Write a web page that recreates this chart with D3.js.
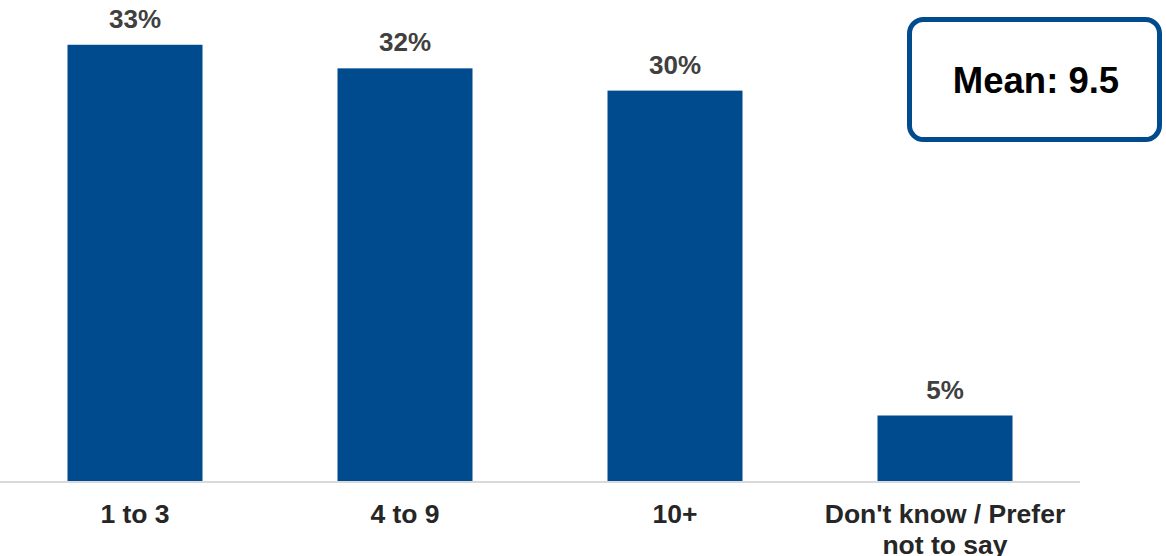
<!DOCTYPE html>
<html>
<head>
<meta charset="utf-8">
<script src="https://cdn.jsdelivr.net/npm/d3@7"></script>
<style>
  body { margin: 0; background: #fff; }
  svg { display: block; font-family: Arial, "Liberation Sans", sans-serif; }
</style>
</head>
<body>
<div id="chart"></div>
<script>
// data
var categories = ["1 to 3", "4 to 9", "10+", "Don't know / Prefer|not to say"];
var values = [33.3, 31.5, 29.8, 5.0];
var meanLabel = "Mean: 9.5";

var width = 1166, height = 556;
var barColor = "rgb(0,75,141)";

var svg = d3.select("#chart").append("svg")
  .attr("width", width)
  .attr("height", height);

var x = d3.scaleBand()
  .domain(categories)
  .range([0, 1080])
  .paddingInner(0.5)
  .paddingOuter(0.25);

var y = d3.scaleLinear()
  .domain([0, 35])
  .range([481, 22.5]);

// bars
svg.selectAll("rect.bar")
  .data(values)
  .enter()
  .append("rect")
  .attr("class", "bar")
  .attr("x", (d, i) => x(categories[i]))
  .attr("y", d => y(d))
  .attr("width", x.bandwidth())
  .attr("height", d => y(0) - y(d))
  .attr("fill", barColor);

// value labels
svg.selectAll("text.val")
  .data(values)
  .enter()
  .append("text")
  .attr("class", "val")
  .attr("x", (d, i) => x(categories[i]) + x.bandwidth() / 2)
  .attr("y", d => y(d) - 17)
  .attr("text-anchor", "middle")
  .style("font-size", "26px")
  .style("font-weight", "bold")
  .style("fill", "#404040")
  .text(d => Math.round(d) + "%");

// x axis line
svg.append("line")
  .attr("x1", 0)
  .attr("x2", 1080)
  .attr("y1", y(0) + 1)
  .attr("y2", y(0) + 1)
  .attr("stroke", "#d9d9d9")
  .attr("stroke-width", 2);

// category labels (| = line break)
categories.forEach(function (c) {
  var t = svg.append("text")
    .attr("text-anchor", "middle")
    .style("font-size", "26.5px")
    .style("font-weight", "bold")
    .style("fill", "#262626");
  c.split("|").forEach(function (line, j) {
    t.append("tspan")
      .attr("x", x(c) + x.bandwidth() / 2)
      .attr("y", 523 + j * 31)
      .text(line);
  });
});

// mean box
svg.append("rect")
  .attr("x", 909.5)
  .attr("y", 19.5)
  .attr("width", 250)
  .attr("height", 120)
  .attr("rx", 14)
  .attr("fill", "#fff")
  .attr("stroke", barColor)
  .attr("stroke-width", 5);

svg.append("text")
  .attr("x", 1036)
  .attr("y", 93)
  .attr("text-anchor", "middle")
  .style("font-size", "36.5px")
  .style("font-weight", "bold")
  .style("fill", "#000")
  .text(meanLabel);
</script>
</body>
</html>
